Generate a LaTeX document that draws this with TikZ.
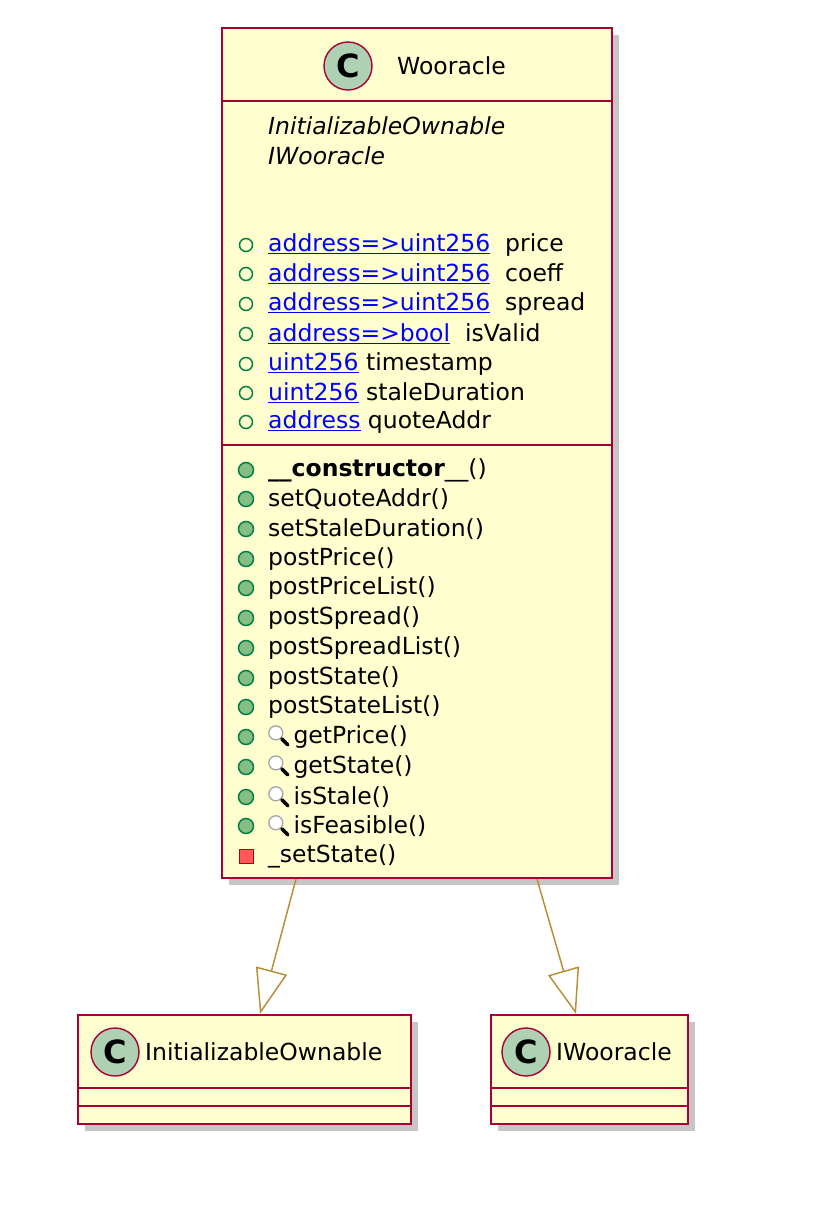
\documentclass[tikz,border=0pt]{standalone}
\usepackage{fontspec}
\setmainfont{DejaVu Sans}
\usetikzlibrary{arrows.meta,shadows}
\definecolor{bord}{HTML}{A80036}
\definecolor{boxfill}{HTML}{FEFECE}
\definecolor{cfill}{HTML}{ADD1B2}
\definecolor{arr}{HTML}{B8903A}
\definecolor{grn}{HTML}{038048}
\definecolor{mfill}{HTML}{84BE84}
\definecolor{lnk}{HTML}{0000FF}
\tikzset{
 x=1pt,y=-1pt,
 cls/.style={draw=bord,fill=boxfill,line width=2.2pt,drop shadow={shadow xshift=7pt,shadow yshift=-7pt,opacity=0.45}},
 sep/.style={draw=bord,line width=2.2pt},
 cc/.style={circle,draw=bord,fill=cfill,line width=1.4pt,minimum size=48pt,inner sep=0pt,font=\fontsize{32}{32}\selectfont\bfseries},
 txt/.style={anchor=west,inner sep=0pt,font=\fontsize{23.5}{28}\selectfont},
 fld/.style={circle,draw=grn,line width=1.5pt,minimum size=13pt,inner sep=0pt},
 mth/.style={circle,draw=grn,fill=mfill,line width=1.5pt,minimum size=15pt,inner sep=0pt},
 inh/.style={draw=arr,line width=1.5pt,-{Triangle[open,length=45pt,width=32pt]}}
}
\newcommand{\lk}[1]{\textcolor{lnk}{\underline{#1}}}
\newcommand{\magglass}{\tikz[x=1pt,y=1pt,baseline=-2pt]{\draw[gray!70,fill=white,line width=1.3pt](0,9)circle(7);\draw[black,line width=3.5pt,line cap=round](6,3)--(12,-3);}\,}
\begin{document}
\begin{tikzpicture}
\useasboundingbox (0,0) rectangle (830,1208);
% main class
\path[cls] (222,28) rectangle (612,878);
\draw[sep] (222,101) -- (612,101);
\draw[sep] (222,445) -- (612,445);
\node[cc] (c1) at (348,66) {C};
\node[txt] (t1) at (397,66) {Wooracle};
\node[txt,font=\fontsize{23.5}{28}\selectfont\itshape] (s1) at (268,126) {InitializableOwnable};
\node[txt,font=\fontsize{23.5}{28}\selectfont\itshape] (s2) at (268,156) {IWooracle};
\foreach \y/\t [count=\i] in {245/{\lk{address=>uint256}\ \ price},274/{\lk{address=>uint256}\ \ coeff},304/{\lk{address=>uint256}\ \ spread},334/{\lk{address=>bool}\ \ isValid},364/{\lk{uint256} timestamp},393/{\lk{uint256} staleDuration},422/{\lk{address} quoteAddr}}{
 \node[fld] (fi\i) at (246,\y) {};
 \node[txt] (f\i) at (268,\y) {\t};
}
\foreach \y/\t [count=\i] in {470/{\textbf{\_\_constructor}\_\_()},499/{setQuoteAddr()},529/{setStaleDuration()},559/{postPrice()},588/{postPriceList()},618/{postSpread()},648/{postSpreadList()},678/{postState()},707/{postStateList()},737/{\magglass getPrice()},767/{\magglass getState()},797/{\magglass isStale()},826/{\magglass isFeasible()}}{
 \node[mth] (mi\i) at (246,\y) {};
 \node[txt] (m\i) at (268,\y) {\t};
}
\node[draw=red!70!black,fill=red!65,minimum size=14pt,inner sep=0pt,line width=0.8pt] (pi) at (246,856) {};
\node[txt] (p1) at (268,856) {\_setState()};
% InitializableOwnable
\path[cls] (78,1015) rectangle (411,1124);
\draw[sep] (78,1088) -- (411,1088);
\draw[sep] (78,1106) -- (411,1106);
\node[cc] (c2) at (115,1052) {C};
\node[txt] (t2) at (145,1052) {InitializableOwnable};
% IWooracle
\path[cls] (491,1015) rectangle (688,1124);
\draw[sep] (491,1088) -- (688,1088);
\draw[sep] (491,1106) -- (688,1106);
\node[cc] (c3) at (526,1052) {C};
\node[txt] (t3) at (556,1052) {IWooracle};
\coordinate (a1) at (296,879);
\coordinate (b1) at (260,1014);
\coordinate (a2) at (537,879);
\coordinate (b2) at (576,1014);
\draw[inh] (a1) -- (b1);
\draw[inh] (a2) -- (b2);
\end{tikzpicture}
\end{document}
